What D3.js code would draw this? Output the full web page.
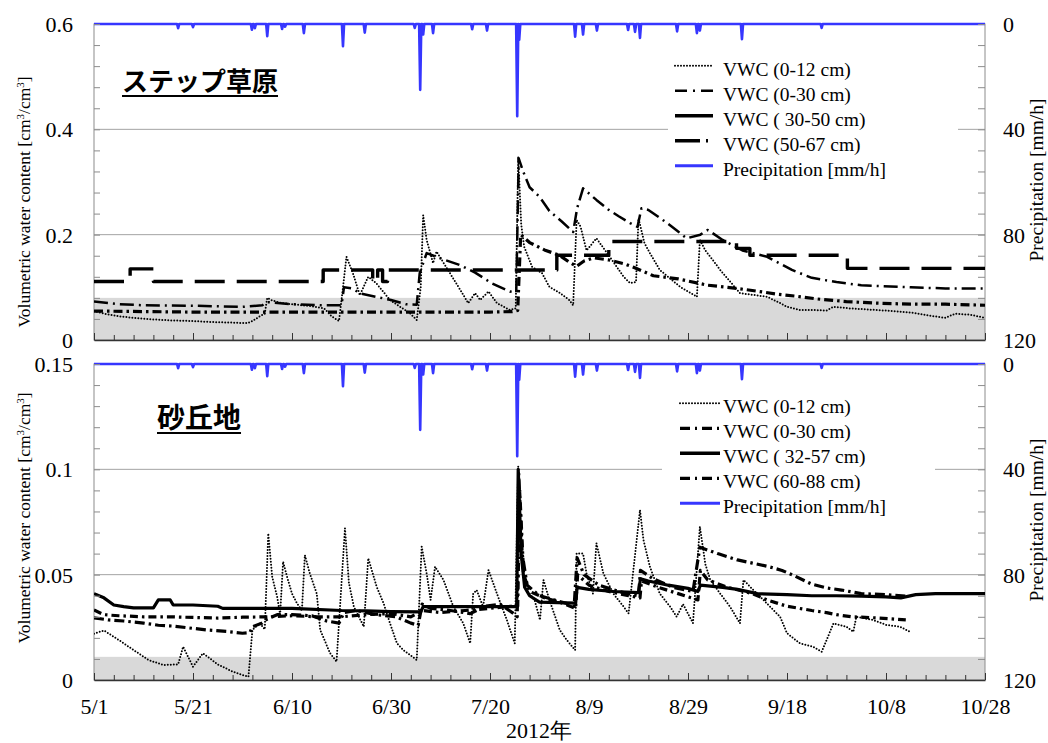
<!DOCTYPE html>
<html>
<head>
<meta charset="utf-8">
<script src="https://cdn.jsdelivr.net/npm/d3@7"></script>
<style>
  body { margin: 0; background: #fff; }
  svg text { fill: #000; }
</style>
</head>
<body>
<svg id="chart" width="1048" height="743"></svg>
<script>
// ---- data (day 0 = 5/1/2012) ----
const xTickDays = [0, 20, 40, 60, 80, 100, 120, 140, 160, 180];
const xTickLabels = ['5/1', '5/21', '6/10', '6/30', '7/20', '8/9', '8/29', '9/18', '10/8', '10/28'];
const topYTicks = [0, 0.2, 0.4, 0.6];
const bottomYTicks = [0, 0.05, 0.1, 0.15];
const precipTicks = [0, 40, 80, 120];

const topLegend = ['VWC (0-12 cm)', 'VWC (0-30 cm)', 'VWC ( 30-50 cm)', 'VWC (50-67 cm)', 'Precipitation [mm/h]'];
const bottomLegend = ['VWC (0-12 cm)', 'VWC (0-30 cm)', 'VWC ( 32-57 cm)', 'VWC (60-88 cm)', 'Precipitation [mm/h]'];

// hourly precipitation peaks [day, mm/h]
const rainDay = [17, 20, 31.9, 32.5, 35, 38, 38.6, 42.4, 50.3, 54.7, 64.8, 65.9, 66.5, 68.5, 76.4, 79.4,
  85.5, 85.9, 97.2, 98.8, 101.6, 107.9, 109.3, 110.3, 117.8, 121.8, 122.4, 130.9, 147];
const rainMm = [1.6, 1.2, 2.2, 1.6, 4.6, 1.9, 1.0, 3.5, 8.4, 3.3, 1.5, 25, 4, 3.5, 2, 2.5,
  35, 6, 4.8, 4, 2.5, 2.3, 3, 5.3, 2.8, 3.5, 2.5, 5.8, 1.5];

// steppe grassland VWC [day, value]
const top012 = [[0,0.055],[2,0.05],[5,0.045],[8,0.042],[12,0.039],[16,0.037],[20,0.036],[24,0.034],[28,0.033],
  [31,0.032],[32,0.036],[33.5,0.045],[34.5,0.05],[35,0.08],[36,0.075],[38,0.07],[41,0.067],[44,0.064],[46.5,0.06],
  [48,0.045],[49.5,0.036],[50.3,0.1],[51,0.158],[52.3,0.127],[53.7,0.085],[55.4,0.12],[57,0.108],[59.8,0.076],
  [62,0.062],[63.8,0.051],[65.2,0.038],[66,0.1],[66.5,0.237],[67.2,0.19],[68.5,0.146],[69.2,0.168],[71.9,0.127],
  [74,0.095],[75.6,0.07],[77,0.089],[78,0.076],[79.7,0.092],[81.4,0.07],[84,0.057],[85.2,0.06],[85.7,0.348],
  [86.3,0.22],[86.9,0.177],[88.5,0.139],[90.5,0.127],[92,0.101],[94,0.09],[96,0.076],[96.8,0.066],[97.5,0.228],
  [98.3,0.215],[99.5,0.17],[101.5,0.193],[104.2,0.158],[107,0.12],[108.3,0.108],[109.5,0.11],[110,0.231],
  [111.2,0.184],[112.3,0.165],[114.3,0.133],[118.4,0.101],[121.8,0.082],[122.4,0.19],[123.5,0.17],[125,0.152],
  [126.5,0.133],[130.5,0.089],[136,0.082],[138.6,0.07],[140,0.063],[142.6,0.057],[145,0.057],[148,0.056],
  [149.4,0.063],[152.7,0.06],[158,0.057],[162.8,0.054],[166,0.051],[169,0.046],[172,0.042],[174,0.05],
  [177,0.048],[180,0.042]];
const top030 = [[0,0.073],[5,0.068],[10,0.066],[20,0.065],[30,0.063],[34,0.066],[35,0.072],[40,0.068],[46,0.066],
  [50,0.066],[50.5,0.1],[52,0.098],[54,0.088],[57,0.082],[60,0.076],[63,0.068],[65.2,0.067],[65.8,0.127],
  [67.2,0.165],[70,0.155],[74,0.142],[77,0.128],[80.3,0.108],[84,0.092],[85.3,0.09],[85.8,0.345],[86.7,0.32],
  [88,0.29],[90,0.272],[92,0.245],[94.5,0.225],[96.8,0.205],[97.6,0.25],[98.8,0.288],[101.5,0.266],[104,0.247],
  [106,0.235],[108.3,0.222],[109.8,0.215],[110.6,0.25],[112,0.247],[115.8,0.222],[118,0.206],[119.7,0.193],
  [122.5,0.2],[124,0.209],[127,0.19],[131,0.17],[136,0.158],[141,0.133],[145,0.118],[150,0.11],[155,0.104],
  [165,0.1],[172,0.098],[180,0.098]];
const top3050 = [[0,0.055],[10,0.054],[20,0.053],[40,0.053],[60,0.053],[80,0.053],[84.5,0.054],[85.6,0.056],
  [86.2,0.2],[88,0.185],[91,0.171],[94,0.161],[96,0.148],[97.5,0.14],[99,0.15],[101,0.156],[104,0.152],
  [107,0.145],[109,0.138],[111,0.13],[113,0.122],[118,0.116],[124,0.104],[128,0.1],[133,0.094],[138,0.087],
  [142,0.083],[146,0.078],[152,0.073],[158,0.07],[165,0.068],[172,0.068],[180,0.066]];
const top5067 = [[0,0.111],[7.3,0.135],[12,0.111],[46.3,0.133],[56.3,0.111],[57.3,0.133],[58.3,0.111],
  [59.3,0.133],[93.5,0.161],[104,0.187],[129.8,0.174],[132.5,0.161],[152.2,0.136],[180,0.136]];

// sand dune VWC [day, value]
const bot012 = [[0,0.022],[2,0.0235],[5,0.019],[8,0.0142],[11,0.0095],[14,0.0071],[17,0.0074],[18,0.0158],
  [20,0.0063],[22,0.0127],[25,0.0074],[28,0.004],[30,0.0024],[31.2,0.0016],[32,0.0237],[33.5,0.027],[34.5,0.024],
  [35.2,0.0696],[36,0.049],[37,0.0395],[37.6,0.031],[38.2,0.0562],[39,0.049],[40,0.041],[41,0.0364],[42,0.033],
  [42.6,0.0593],[43.6,0.0506],[45,0.041],[45.7,0.0237],[47.7,0.0127],[49,0.0087],[50.7,0.072],[51.5,0.046],
  [52.5,0.0348],[54.5,0.0253],[55.4,0.0578],[57.1,0.0443],[58.5,0.0364],[59.8,0.0269],[61.2,0.0174],
  [62.5,0.0142],[65.2,0.0095],[66.2,0.0633],[67.2,0.0506],[68,0.038],[68.9,0.0538],[70.6,0.0475],[72.6,0.0348],
  [74.6,0.0269],[76,0.0174],[76.6,0.041],[77.3,0.0427],[78.6,0.0348],[79.7,0.0522],[81.4,0.041],[83.4,0.0285],
  [85,0.0174],[85.7,0.1013],[86.2,0.06],[87,0.044],[89,0.038],[90.1,0.0285],[90.8,0.0475],[92,0.038],
  [94.1,0.0237],[95.5,0.019],[97.2,0.0142],[97.5,0.0601],[98.8,0.06],[99.5,0.0506],[100.8,0.041],[101.5,0.0649],
  [102.9,0.0506],[104.9,0.041],[107,0.0348],[108,0.0316],[110.3,0.0807],[111,0.0665],[112.3,0.0538],
  [114.3,0.041],[116.4,0.0348],[117.7,0.03],[119,0.036],[121,0.027],[122.4,0.0728],[123.5,0.055],[124.5,0.0475],
  [126.5,0.041],[128.5,0.0348],[130.5,0.0269],[131.2,0.0475],[133.2,0.0427],[135.9,0.0364],[138.6,0.03],
  [140,0.0222],[142.6,0.0174],[145.3,0.0158],[147,0.0134],[148,0.019],[149.4,0.0269],[152,0.0253],
  [153.4,0.0229],[154,0.03],[157.4,0.0285],[160.1,0.0261],[162.8,0.0253],[164.8,0.0229]];
const bot030 = [[0,0.0295],[3,0.0285],[6,0.028],[10,0.027],[13,0.026],[16,0.0256],[20,0.0245],[23,0.0237],
  [27,0.023],[30,0.0222],[31.5,0.0225],[32,0.0253],[34,0.027],[35,0.029],[37,0.031],[40,0.031],[44,0.0305],
  [47,0.028],[49.5,0.027],[50.5,0.032],[53,0.033],[57,0.031],[61,0.03],[64,0.027],[65.5,0.026],[66.3,0.036],
  [68,0.034],[72,0.033],[76,0.0315],[79,0.035],[82,0.036],[84.5,0.032],[85.5,0.03],[85.8,0.098],[86.5,0.06],
  [87.5,0.045],[90,0.04],[93,0.038],[96,0.036],[97,0.035],[97.6,0.058],[99,0.05],[102,0.045],[106,0.042],
  [110,0.04],[110.4,0.052],[113,0.048],[117,0.044],[121,0.042],[122.4,0.063],[126,0.06],[130,0.057],
  [133,0.0555],[136,0.054],[139,0.052],[141,0.05],[145,0.0455],[148,0.0437],[151,0.0427],[155,0.041],
  [160,0.0405],[164,0.0398]];
const bot3257 = [[0,0.041],[2,0.039],[4,0.0356],[6,0.0348],[8,0.0342],[12,0.0342],[13,0.038],[15.4,0.038],
  [16,0.0356],[20,0.0356],[25,0.035],[26,0.034],[33,0.034],[40,0.034],[50,0.033],[55,0.0328],[60,0.0325],
  [66,0.0323],[66.5,0.0348],[85.4,0.0348],[85.7,0.1],[86.3,0.06],[87,0.044],[88,0.04],[90,0.037],[97.3,0.0365],
  [97.6,0.044],[100,0.043],[105,0.042],[110,0.0415],[110.4,0.048],[112,0.047],[116,0.045],[120,0.0435],
  [122,0.042],[122.5,0.045],[127,0.044],[130,0.043],[134,0.041],[140,0.0405],[145,0.04],[150,0.04],
  [155,0.0398],[160,0.0395],[163,0.039],[166,0.0405],[170,0.041],[175,0.041],[180,0.041]];
const bot6088 = [[0,0.0332],[2,0.031],[5,0.0305],[10,0.03],[15,0.03],[20,0.0297],[25,0.0294],[30,0.0298],
  [35,0.03],[40,0.0305],[45,0.03],[50,0.03],[55,0.031],[60,0.0315],[64,0.03],[66.5,0.033],[70,0.032],[75,0.033],
  [80,0.034],[84,0.035],[85.6,0.035],[86,0.09],[86.8,0.05],[88,0.042],[91,0.039],[94,0.037],[97.3,0.034],
  [97.7,0.05],[100,0.045],[104,0.042],[108,0.04],[110.3,0.039],[110.6,0.047],[114,0.044],[118,0.041],
  [122,0.038],[122.5,0.052],[124,0.0475],[128,0.044],[133,0.041],[136,0.038],[140,0.035],[145,0.033],
  [148,0.032],[150,0.031],[153,0.03],[158,0.0295],[164,0.0285]];

// ---- layout ----
const left = 94, right = 985;
const serif = '"Liberation Serif", "Times New Roman", Times, "DejaVu Serif", serif';
const svg = d3.select('#chart');
const x = d3.scaleLinear().domain([0, 180]).range([left, right]);
const blue = '#3636ff';

const dotted = { dash: '0,3', width: 2, cap: 'round' };

const panels = [
  {
    top: 24, bottom: 340, yMax: 0.6, yTicks: topYTicks, minorStep: 0.04, band: 0.08,
    title: 'ステップ草原', titleX: 122, titleY: 91, titleSize: 26,
    yTitleY: 202, pTitleY: 180, showXLabels: false,
    legend: topLegend, legendBox: [668, 52, 958, 178], legendX: 675, legendLen: 38, legendY: 65.7,
    series: [
      { data: top012, ...dotted, legendDash: '0,3' },
      { data: top030, dash: '14,5,2,5', width: 2.5, legendDash: '12,6,2,6' },
      { data: top3050, dash: '9,4,2.5,4', width: 3.2, legendDash: null, legendWidth: 3.5 },
      { data: top5067, dash: '30,12', width: 3.4, step: true, legendDash: '25,6,2,6' }
    ]
  },
  {
    top: 364, bottom: 680, yMax: 0.15, yTicks: bottomYTicks, minorStep: 0.01, band: 0.011,
    title: '砂丘地', titleX: 157, titleY: 428, titleSize: 28,
    yTitleY: 518, pTitleY: 520, showXLabels: true,
    legend: bottomLegend, legendBox: [662, 390, 935, 516], legendX: 680, legendLen: 40, legendY: 403.3,
    series: [
      { data: bot012, ...dotted, legendDash: '0,3' },
      { data: bot030, dash: '10,4,2.5,4', width: 3.2, legendDash: '10,5,2,5' },
      { data: bot3257, dash: null, width: 3.2, legendDash: null, legendWidth: 3.5 },
      { data: bot6088, dash: '8,4,2.5,4', width: 3.2, legendDash: '10,5,2,5' }
    ]
  }
];

// precipitation line: baseline with a spike at each rain record
const rainLine = [[0, 0]];
rainDay.forEach((d, i) => {
  rainLine.push([d - 0.22, 0], [d, rainMm[i]], [d + 0.22, 0]);
});
rainLine.push([180, 0]);

panels.forEach((p, pi) => {
  const y = d3.scaleLinear().domain([0, p.yMax]).range([p.bottom, p.top]);
  const yr = d3.scaleLinear().domain([0, 120]).range([p.top, p.bottom]);
  const g = svg.append('g');

  // shaded band
  g.append('rect')
    .attr('x', left).attr('y', y(p.band))
    .attr('width', right - left).attr('height', p.bottom - y(p.band))
    .attr('fill', '#d9d9d9');

  // gridlines
  g.selectAll('line.grid')
    .data(p.yTicks.slice(1, -1))
    .join('line')
    .attr('x1', left).attr('x2', right)
    .attr('y1', d => y(d)).attr('y2', d => y(d))
    .attr('stroke', '#a3a3a3').attr('stroke-width', 1);

  // legend background hides the gridline
  const [bx0, by0, bx1, by1] = p.legendBox;
  g.append('rect')
    .attr('x', bx0).attr('y', by0).attr('width', bx1 - bx0).attr('height', by1 - by0)
    .attr('fill', '#fff');

  // frame
  g.append('rect')
    .attr('x', left).attr('y', p.top).attr('width', right - left).attr('height', p.bottom - p.top)
    .attr('fill', 'none').attr('stroke', '#8c8c8c').attr('stroke-width', 1);

  // clip
  const clipId = 'clip' + pi;
  svg.append('clipPath').attr('id', clipId)
    .append('rect')
    .attr('x', left).attr('y', p.top - 3)
    .attr('width', right - left).attr('height', p.bottom - p.top + 3);

  const plot = g.append('g').attr('clip-path', `url(#${clipId})`);

  // VWC series
  p.series.forEach(s => {
    const line = d3.line()
      .x(d => x(d[0]))
      .y(d => y(d[1]))
      .curve(s.step ? d3.curveStepAfter : d3.curveLinear);
    plot.append('path')
      .datum(s.data)
      .attr('d', line)
      .attr('fill', 'none')
      .attr('stroke', '#000')
      .attr('stroke-width', s.width)
      .attr('stroke-dasharray', s.dash)
      .attr('stroke-linecap', s.cap || 'butt')
      .attr('stroke-linejoin', 'round');
  });

  // precipitation
  plot.append('path')
    .datum(rainLine)
    .attr('d', d3.line().x(d => x(d[0])).y(d => yr(d[1])))
    .attr('fill', 'none')
    .attr('stroke', blue)
    .attr('stroke-width', 2.6)
    .attr('stroke-linejoin', 'round');

  // left axis
  const minorY = d3.range(0, p.yMax + 1e-9, p.minorStep);
  const la = g.append('g').attr('transform', `translate(${left},0)`)
    .call(d3.axisLeft(y).tickValues(minorY).tickSize(-6).tickSizeOuter(0).tickFormat(''));
  la.select('.domain').remove();
  la.selectAll('line').attr('stroke', '#8c8c8c');

  const ll = g.append('g').attr('transform', `translate(${left},0)`)
    .call(d3.axisLeft(y).tickValues(p.yTicks).tickSize(0).tickPadding(21).tickFormat(d => String(d)));
  ll.select('.domain').remove();
  ll.selectAll('text').attr('font-size', 22).attr('dy', '0.34em');

  // right axis
  const minorP = d3.range(0, 120 + 1e-9, 8);
  const ra = g.append('g').attr('transform', `translate(${right},0)`)
    .call(d3.axisRight(yr).tickValues(minorP).tickSize(-7).tickSizeOuter(0).tickFormat(''));
  ra.select('.domain').remove();
  ra.selectAll('line').attr('stroke', '#8c8c8c');

  const rl = g.append('g').attr('transform', `translate(${right},0)`)
    .call(d3.axisRight(yr).tickValues(precipTicks).tickSize(0).tickPadding(18));
  rl.select('.domain').remove();
  rl.selectAll('text').attr('font-size', 22).attr('dy', '0.34em');

  // bottom axis
  const minorX = d3.range(0, 181, 4);
  const ba = g.append('g').attr('transform', `translate(0,${p.bottom})`)
    .call(d3.axisBottom(x).tickValues(minorX).tickSize(-5).tickSizeOuter(0).tickFormat(''));
  ba.select('.domain').attr('stroke', '#333').attr('stroke-width', 1.3);
  ba.selectAll('line').attr('stroke', '#333');

  const bm = g.append('g').attr('transform', `translate(0,${p.bottom})`)
    .call(d3.axisBottom(x).tickValues(xTickDays).tickSize(-7).tickPadding(18)
      .tickFormat((d, i) => (p.showXLabels ? xTickLabels[i] : '')));
  bm.select('.domain').remove();
  bm.selectAll('line').attr('stroke', '#333');
  bm.selectAll('text').attr('font-size', 22);

  // axis titles
  const yt = g.append('text')
    .attr('transform', `translate(30,${p.yTitleY}) rotate(-90)`)
    .attr('text-anchor', 'middle')
    .attr('font-size', 17.5);
  yt.append('tspan').text('Volumetric water content [cm');
  yt.append('tspan').attr('baseline-shift', 'super').attr('font-size', 11).text('3');
  yt.append('tspan').text('/cm');
  yt.append('tspan').attr('baseline-shift', 'super').attr('font-size', 11).text('3');
  yt.append('tspan').text(']');

  g.append('text')
    .attr('transform', `translate(1043,${p.pTitleY}) rotate(-90)`)
    .attr('text-anchor', 'middle')
    .attr('font-size', 19.5)
    .text('Precipitation [mm/h]');

  // legend
  const rows = p.series.map(s => ({
    dash: s.legendDash, width: s.legendWidth || s.width, cap: s.cap, color: '#000'
  }));
  rows.push({ dash: null, width: 3, color: blue });
  rows.forEach((r, i) => {
    const ry = p.legendY + i * 25;
    g.append('line')
      .attr('x1', p.legendX).attr('x2', p.legendX + p.legendLen)
      .attr('y1', ry).attr('y2', ry)
      .attr('stroke', r.color)
      .attr('stroke-width', r.width)
      .attr('stroke-dasharray', r.dash)
      .attr('stroke-linecap', r.cap || 'butt');
    g.append('text')
      .attr('x', 723).attr('y', ry + 10)
      .attr('font-size', 19.5)
      .text(p.legend[i]);
  });

  // all latin text in a Times-like serif
  g.selectAll('text').style('font-family', serif);

  // site title, underlined
  const tt = g.append('text')
    .attr('x', p.titleX).attr('y', p.titleY)
    .attr('font-size', p.titleSize).attr('font-weight', 'bold')
    .style('font-family', '"Noto Sans CJK JP", sans-serif')
    .text(p.title);
  const tw = tt.node().getComputedTextLength();
  g.append('line')
    .attr('x1', p.titleX).attr('x2', p.titleX + tw)
    .attr('y1', p.titleY + 5).attr('y2', p.titleY + 5)
    .attr('stroke', '#000').attr('stroke-width', 2);
});

// x-axis title
svg.append('text')
  .attr('x', 539).attr('y', 738)
  .attr('text-anchor', 'middle')
  .attr('font-size', 22)
  .style('font-family', serif)
  .text('2012年');
</script>
</body>
</html>
